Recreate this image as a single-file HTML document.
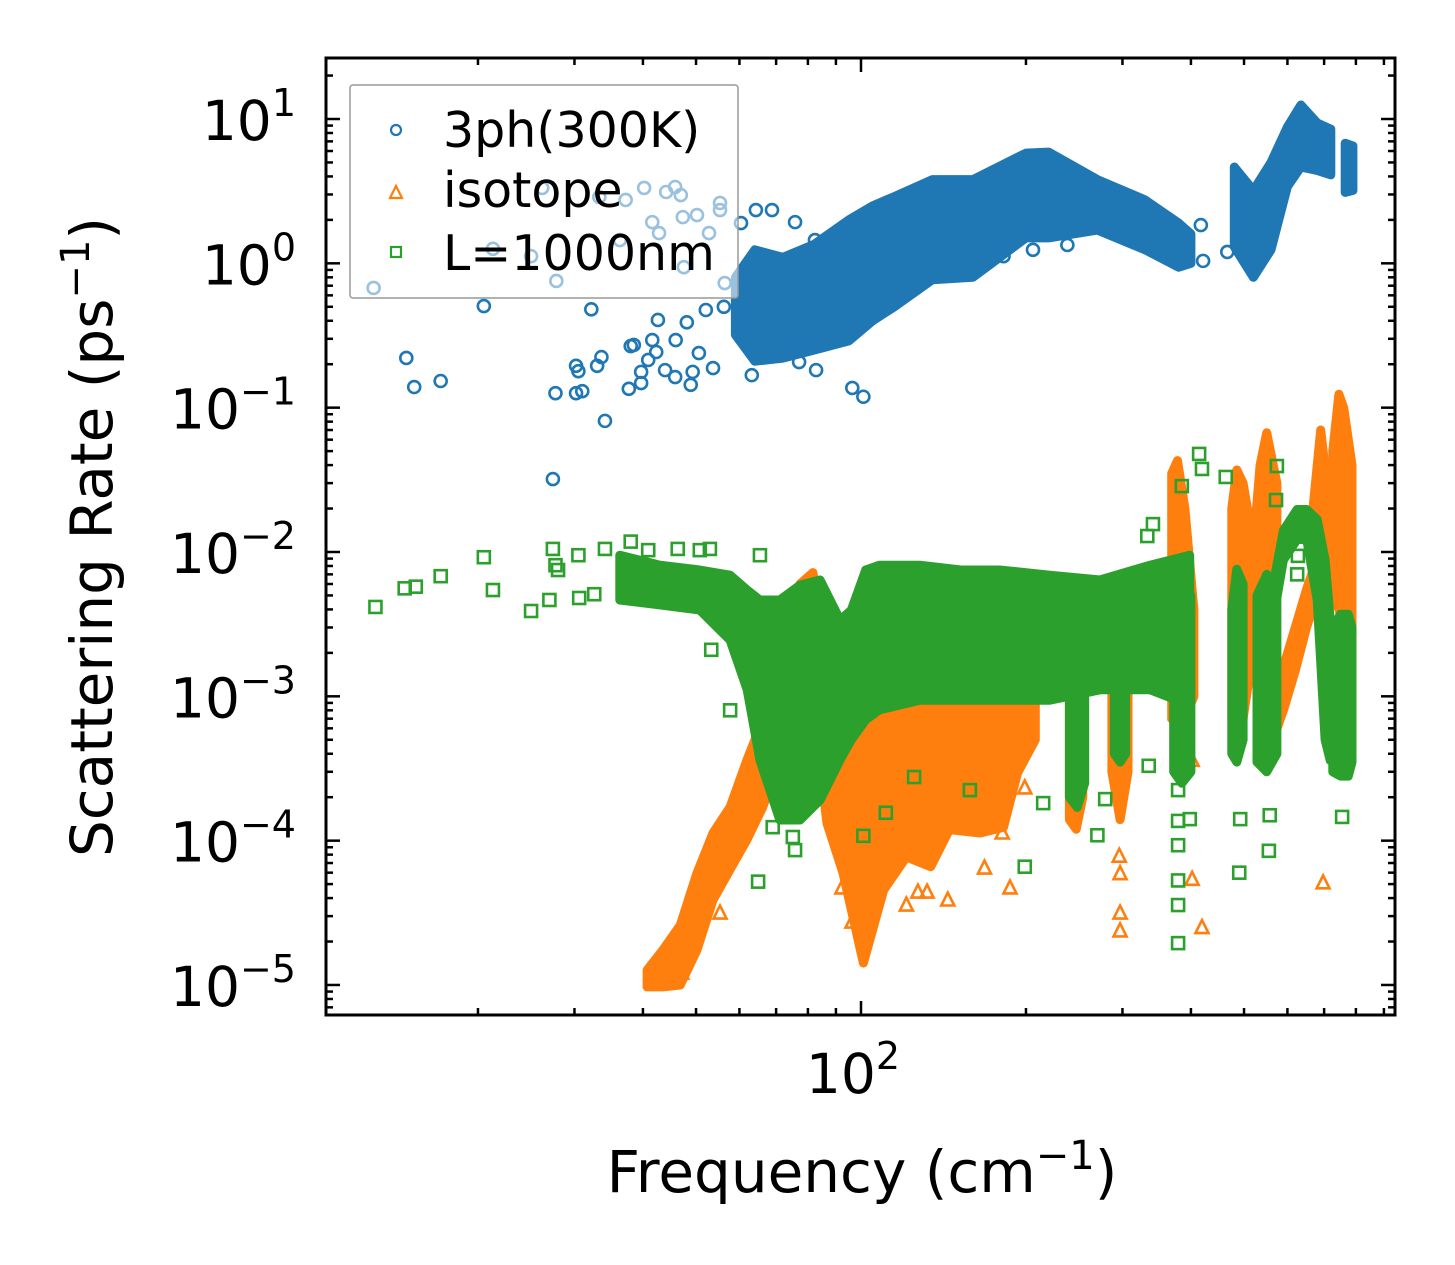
<!DOCTYPE html>
<html><head><meta charset="utf-8"><style>
html,body{margin:0;padding:0;background:#fff;}
svg{display:block;font-family:"DejaVu Sans","Liberation Sans",sans-serif;}
</style></head><body>
<svg id="chart" width="1455" height="1265" viewBox="0 0 1455 1265" xmlns="http://www.w3.org/2000/svg">
<rect width="1455" height="1265" fill="#fff"/>
<defs><clipPath id="plotclip"><rect x="326" y="58" width="1069" height="957"/></clipPath></defs>
<g id="plot" clip-path="url(#plotclip)"></g>
<rect x="326" y="58" width="1069" height="957" fill="none" stroke="#000" stroke-width="3"/>
<g id="ticks"></g>
<g id="ticklabels" font-size="55" fill="#000"></g>
<text x="862" y="1192" font-size="58" text-anchor="middle">Frequency (cm<tspan font-size="40" dy="-23">−1</tspan><tspan dy="23">)</tspan></text>
<text transform="translate(112,537) rotate(-90)" font-size="58" text-anchor="middle">Scattering Rate (ps<tspan font-size="40" dy="-23">−1</tspan><tspan dy="23">)</tspan></text>
<g>
<rect x="350" y="85" width="388" height="213" rx="3" fill="#fff" fill-opacity="0.55" stroke="#999" stroke-width="1.5"/>
<g><circle cx="396" cy="130" r="5" fill="none" stroke="#1f77b4" stroke-width="2.2"/><text x="443" y="147" font-size="49">3ph(300K)</text></g>
<g><path d="M390,198 L396,186 L402,198 Z" fill="none" stroke="#ff7f0e" stroke-width="2.2"/><text x="443" y="207" font-size="49">isotope</text></g>
<g><rect x="391" y="247" width="10" height="10" fill="none" stroke="#2ca02c" stroke-width="2.2"/><text x="443" y="270" font-size="49">L=1000nm</text></g>
</g>
</svg>
<script>
// ---- data (frequency in cm^-1, rate in ps^-1) ----
const phBandFreq=[59,64,72,82,95,105,115,135,160,200,220,270,330,380,400];
const phBandLo=[0.32,0.21,0.22,0.25,0.29,0.40,0.50,0.77,0.80,1.5,1.5,1.7,1.24,0.94,1.0];
const phBandHi=[0.8,1.24,1.1,1.35,2.0,2.5,2.9,3.8,3.8,5.8,5.9,3.8,2.75,1.9,1.6];
const phBand2Freq=[480,520,560,600,635,680,720];
const phBand2Lo=[1.3,0.8,1.24,3.4,4.65,4.4,4.1];
const phBand2Hi=[4.65,3.2,5.0,8.8,12.5,9.4,8.5];
const phBand3Freq=[765,790];
const phBand3Lo=[3.1,3.2];
const phBand3Hi=[6.8,6.5];
const phPtsFreq=[12.9,14.8,15.3,17.1,20.5,21.3,25.0,26.2,27.4,27.8,30.2,30.5,27.7,30.2,31.0,32.2,33.0,33.6,34.1,38.0,38.5,37.7,39.7,39.7,40.9,41.6,42.3,42.6,43.9,45.8,45.9,48.1,48.9,49.3,50.6,52.1,53.7,56.2,63.2,72.3,77.1,82.8,96.4,101,40.2,44.1,45.8,46.9,37.2,33.3,41.6,42.8,47.3,50.2,55.3,55.3,36.3,60.4,64.3,68.8,75.8,82.4,47.5,52.8,56.4,182,206,238,417,421,466];
const phPtsVal=[0.675,0.221,0.139,0.153,0.506,1.26,1.12,3.33,0.032,0.755,0.195,0.179,0.126,0.126,0.130,0.48,0.195,0.224,0.081,0.267,0.272,0.135,0.177,0.148,0.214,0.294,0.243,0.405,0.182,0.163,0.294,0.39,0.144,0.177,0.239,0.475,0.188,0.50,0.168,0.239,0.207,0.182,0.137,0.119,3.33,3.12,3.38,2.97,2.75,2.88,1.93,1.62,2.09,2.16,2.62,2.34,1.45,1.90,2.34,2.34,1.93,1.45,0.94,1.62,0.73,1.12,1.24,1.34,1.84,1.04,1.20];

const isoBandFreq=[40.7,43.5,46.8,50.2,53.7,57.7,61.9,66.2,71.1,77.4,81.7,86.7,92.7,101,110,121,134,145,165,182,193,208];
const isoBandLo=[9.7e-6,9.7e-6,1.0e-5,1.75e-5,3.88e-5,6.3e-5,1.01e-4,1.71e-4,3.6e-4,6e-4,8e-4,1.32e-4,5.97e-5,1.42e-5,4.55e-5,7.7e-5,6.6e-5,1.19e-4,1.13e-4,1.24e-4,2.94e-4,5e-4];
const isoBandHi=[1.27e-5,1.75e-5,2.6e-5,5.97e-5,1.13e-4,1.71e-4,3.6e-4,6.9e-4,3.2e-3,6e-3,7.2e-3,2e-3,1.1e-3,1e-3,1.1e-3,1.1e-3,1.1e-3,1.1e-3,1.1e-3,1e-3,9.4e-4,9.4e-4];
const isoSpikeAFreq=[240,247,254], isoSpikeALo=[1.4e-4,1.2e-4,2e-4], isoSpikeAHi=[1e-3,1.3e-3,9e-4];
const isoSpikeBFreq=[287,297,307], isoSpikeBLo=[3e-4,1.4e-4,3e-4], isoSpikeBHi=[1.5e-3,2e-3,1.5e-3];
const isoSpikeCFreq=[369,378,390,405], isoSpikeCLo=[7e-4,6.8e-4,7e-4,1e-3], isoSpikeCHi=[0.035,0.043,0.02,0.004];
const isoSpikeDFreq=[475,485,498,519], isoSpikeDLo=[7e-4,6e-4,7e-4,2e-3], isoSpikeDHi=[0.02,0.037,0.03,0.012];
const isoSpikeEFreq=[519,535,550,574], isoSpikeELo=[0.006,0.008,0.007,0.005], isoSpikeEHi=[0.01,0.04,0.067,0.03];
const isoRampFreq=[565,590,620,650,680], isoRampLo=[5e-4,8e-4,1.5e-3,3e-3,5e-3], isoRampHi=[1e-3,1.6e-3,3e-3,5.5e-3,9e-3];
const isoSpikeGFreq=[668,690,708], isoSpikeGLo=[0.006,0.006,0.007], isoSpikeGHi=[0.02,0.07,0.03];
const isoSpikeHFreq=[726,745,760,787], isoSpikeHLo=[0.005,0.004,0.003,0.003], isoSpikeHHi=[0.05,0.124,0.1,0.04];
const isoPtsFreq=[92.3,96.3,121,127,132,144,168,187,199,181,55.3,47.1,296,297,297,297,402,419,402,697,771,748];
const isoPtsVal=[4.7e-5,2.73e-5,3.58e-5,4.4e-5,4.4e-5,3.88e-5,6.46e-5,4.7e-5,2.32e-4,1.13e-4,3.15e-5,1.21e-5,7.8e-5,5.9e-5,3.15e-5,2.37e-5,5.4e-5,2.5e-5,3.6e-4,5.1e-5,6.3e-3,4.9e-3];

const bndBandFreq=[36.3,43,50.8,57.7,62,65.4,71.1,77.4,84.2,91.6,96,102,108,128,152,179,221,273,337,398];
const bndBandLo=[4.65e-3,4.3e-3,3.96e-3,2.45e-3,1.11e-3,3.62e-4,1.39e-4,1.39e-4,1.91e-4,3.62e-4,5e-4,6.86e-4,8.05e-4,9.4e-4,9.4e-4,9.4e-4,9.4e-4,1.11e-3,1.11e-3,8.7e-4];
const bndBandHi=[9.5e-3,8.1e-3,7.5e-3,6.9e-3,5.45e-3,4.65e-3,4.65e-3,5.9e-3,6.4e-3,3.38e-3,3.96e-3,7.5e-3,8.1e-3,8.1e-3,7.5e-3,7.5e-3,6.9e-3,6.4e-3,8.1e-3,9.5e-3];
const bndColAFreq=[240,248,256], bndColALo=[2e-4,1.7e-4,2.5e-4], bndColAHi=[2e-3,2e-3,2e-3];
const bndColBFreq=[290,297,304], bndColBLo=[4e-4,3.5e-4,4e-4], bndColBHi=[2e-3,2e-3,2e-3];
const bndColCFreq=[372,385,400], bndColCLo=[3e-4,2.5e-4,3e-4], bndColCHi=[5e-3,5e-3,5e-3];
const bndColDFreq=[475,485,498], bndColDLo=[4e-4,3.5e-4,5e-4], bndColDHi=[4e-3,7.6e-3,6e-3];
const bndColEFreq=[528,550,574], bndColELo=[3.5e-4,3e-4,4e-4], bndColEHi=[5e-3,7e-3,6e-3];
const bndArchFreq=[565,590,625,651,680,703,718], bndArchLo=[3.4e-3,8.8e-3,0.0122,0.0122,4.65e-3,5e-4,3.6e-4], bndArchHi=[5.9e-3,0.0141,0.0197,0.0197,0.0168,8.8e-3,3.4e-3];
const bndColHFreq=[726,750,775,787], bndColHLo=[3e-4,2.8e-4,2.8e-4,3.5e-4], bndColHHi=[3e-3,3.7e-3,3.7e-3,3e-3];
const bndPtsFreq=[13.0,14.7,15.4,17.1,20.5,21.3,25.0,27.4,27.7,28,30.5,30.6,32.6,34.1,38,40.9,46.3,50.8,53.3,57.7,53,65.4,27,64.9,75.8,75.1,69,199,125,101,111,158,215,270,279,335,379,379,379,379,379,379,398,492,490,555,557,755,414,419,463,574,572,625,627,341,333,385];
const bndPtsVal=[4.16e-3,5.6e-3,5.75e-3,6.8e-3,9.2e-3,5.45e-3,3.9e-3,0.0105,8.1e-3,7.5e-3,9.5e-3,4.8e-3,5.1e-3,0.0105,0.0118,0.0103,0.0105,0.0103,2.1e-3,8e-4,0.0105,9.5e-3,4.65e-3,5.2e-5,8.6e-5,1.06e-4,1.24e-4,6.6e-5,2.76e-4,1.08e-4,1.56e-4,2.24e-4,1.82e-4,1.09e-4,1.94e-4,3.3e-4,2.24e-4,1.37e-4,9.3e-5,5.3e-5,3.58e-5,1.95e-5,1.41e-4,1.41e-4,6e-5,8.5e-5,1.5e-4,1.46e-4,0.0478,0.0376,0.0331,0.0394,0.0229,7e-3,9.4e-3,0.0156,0.0129,0.0286];

const yTickVals=[10,1,0.1,0.01,0.001,0.0001,0.00001];
const yTickExps=["1","0","−1","−2","−3","−4","−5"];
const xTickVals=[100];
const xTickExps=["2"];

// ---- scales ----
const X=f=>861+548*(Math.log10(f)-2);
const Y=v=>119+144.33*(1-Math.log10(v));
const NS="http://www.w3.org/2000/svg";
const plot=document.getElementById('plot');
const C={ph:'#1f77b4',iso:'#ff7f0e',bnd:'#2ca02c'};

function band(freq,lo,hi,color,name){
  const pts=[];
  for(let i=0;i<freq.length;i++)pts.push(X(freq[i]).toFixed(1)+','+Y(hi[i]).toFixed(1));
  for(let i=freq.length-1;i>=0;i--)pts.push(X(freq[i]).toFixed(1)+','+Y(lo[i]).toFixed(1));
  const p=document.createElementNS(NS,'polygon');
  p.setAttribute('points',pts.join(' '));
  p.setAttribute('fill',color);p.setAttribute('stroke',color);
  p.setAttribute('stroke-width','9');p.setAttribute('stroke-linejoin','round');
  
  
  plot.appendChild(p);
}
function marker(kind,f,v,color,name){
  const x=X(f),y=Y(v);let el;
  if(kind==='c'){el=document.createElementNS(NS,'circle');el.setAttribute('cx',x);el.setAttribute('cy',y);el.setAttribute('r',6);}
  else if(kind==='t'){el=document.createElementNS(NS,'path');el.setAttribute('d',`M${x-6.5},${y+5.5} L${x},${y-7.5} L${x+6.5},${y+5.5} Z`);}
  else {el=document.createElementNS(NS,'rect');el.setAttribute('x',x-6);el.setAttribute('y',y-6);el.setAttribute('width',12);el.setAttribute('height',12);}
  el.setAttribute('fill','none');el.setAttribute('stroke',color);el.setAttribute('stroke-width','2.6');
  
  
  plot.appendChild(el);
}
// 3ph
band(phBandFreq,phBandLo,phBandHi,C.ph,'3ph-band');
band(phBand2Freq,phBand2Lo,phBand2Hi,C.ph,'3ph-band-high');
band(phBand3Freq,phBand3Lo,phBand3Hi,C.ph,'3ph-band-end');
phPtsFreq.forEach((f,i)=>marker('c',f,phPtsVal[i],C.ph,'3ph-point'));
// isotope
[[isoBandFreq,isoBandLo,isoBandHi],[isoSpikeAFreq,isoSpikeALo,isoSpikeAHi],[isoSpikeBFreq,isoSpikeBLo,isoSpikeBHi],[isoSpikeCFreq,isoSpikeCLo,isoSpikeCHi],[isoSpikeDFreq,isoSpikeDLo,isoSpikeDHi],[isoSpikeEFreq,isoSpikeELo,isoSpikeEHi],[isoRampFreq,isoRampLo,isoRampHi],[isoSpikeGFreq,isoSpikeGLo,isoSpikeGHi],[isoSpikeHFreq,isoSpikeHLo,isoSpikeHHi]].forEach(s=>band(s[0],s[1],s[2],C.iso,'isotope-band'));
isoPtsFreq.forEach((f,i)=>marker('t',f,isoPtsVal[i],C.iso,'isotope-point'));
// boundary
[[bndBandFreq,bndBandLo,bndBandHi],[bndColAFreq,bndColALo,bndColAHi],[bndColBFreq,bndColBLo,bndColBHi],[bndColCFreq,bndColCLo,bndColCHi],[bndColDFreq,bndColDLo,bndColDHi],[bndColEFreq,bndColELo,bndColEHi],[bndArchFreq,bndArchLo,bndArchHi],[bndColHFreq,bndColHLo,bndColHHi]].forEach(s=>band(s[0],s[1],s[2],C.bnd,'boundary-band'));
bndPtsFreq.forEach((f,i)=>marker('s',f,bndPtsVal[i],C.bnd,'boundary-point'));

// ---- ticks ----
const tg=document.getElementById('ticks');
function line(x1,y1,x2,y2,name){
  const l=document.createElementNS(NS,'line');
  l.setAttribute('x1',x1);l.setAttribute('y1',y1);l.setAttribute('x2',x2);l.setAttribute('y2',y2);
  l.setAttribute('stroke','#000');l.setAttribute('stroke-width','2.5');
  
  
  tg.appendChild(l);
}
for(let e=-6;e<=1;e++){
  for(let m=1;m<=9;m++){
    const v=m*Math.pow(10,e);const y=Y(v);
    if(y<60||y>1013)continue;
    const L=m===1?14:7;
    line(326,y,326+L,y,'y-tick');line(1395,y,1395-L,y,'y-tick-right');
  }
}
for(let e=1;e<=2;e++){
  for(let m=1;m<=9;m++){
    const f=m*Math.pow(10,e);const x=X(f);
    if(x<328||x>1393)continue;
    const L=(m===1&&e===2)?14:7;
    line(x,1015,x,1015-L,'x-tick');line(x,58,x,58+L,'x-tick-top');
  }
}
const lg=document.getElementById('ticklabels');
yTickVals.forEach((v,i)=>{
  const t=document.createElementNS(NS,'text');
  t.setAttribute('x',296);t.setAttribute('y',Y(v)+21);t.setAttribute('text-anchor','end');
  t.innerHTML='10<tspan font-size="38" dy="-24">'+yTickExps[i]+'</tspan>';
  
  
  lg.appendChild(t);
});
xTickVals.forEach((v,i)=>{
  const t=document.createElementNS(NS,'text');
  t.setAttribute('x',X(v)-8);t.setAttribute('y',1093);t.setAttribute('text-anchor','middle');
  t.innerHTML='10<tspan font-size="38" dy="-24">'+xTickExps[i]+'</tspan>';
  
  
  lg.appendChild(t);
});
</script>
</body></html>
